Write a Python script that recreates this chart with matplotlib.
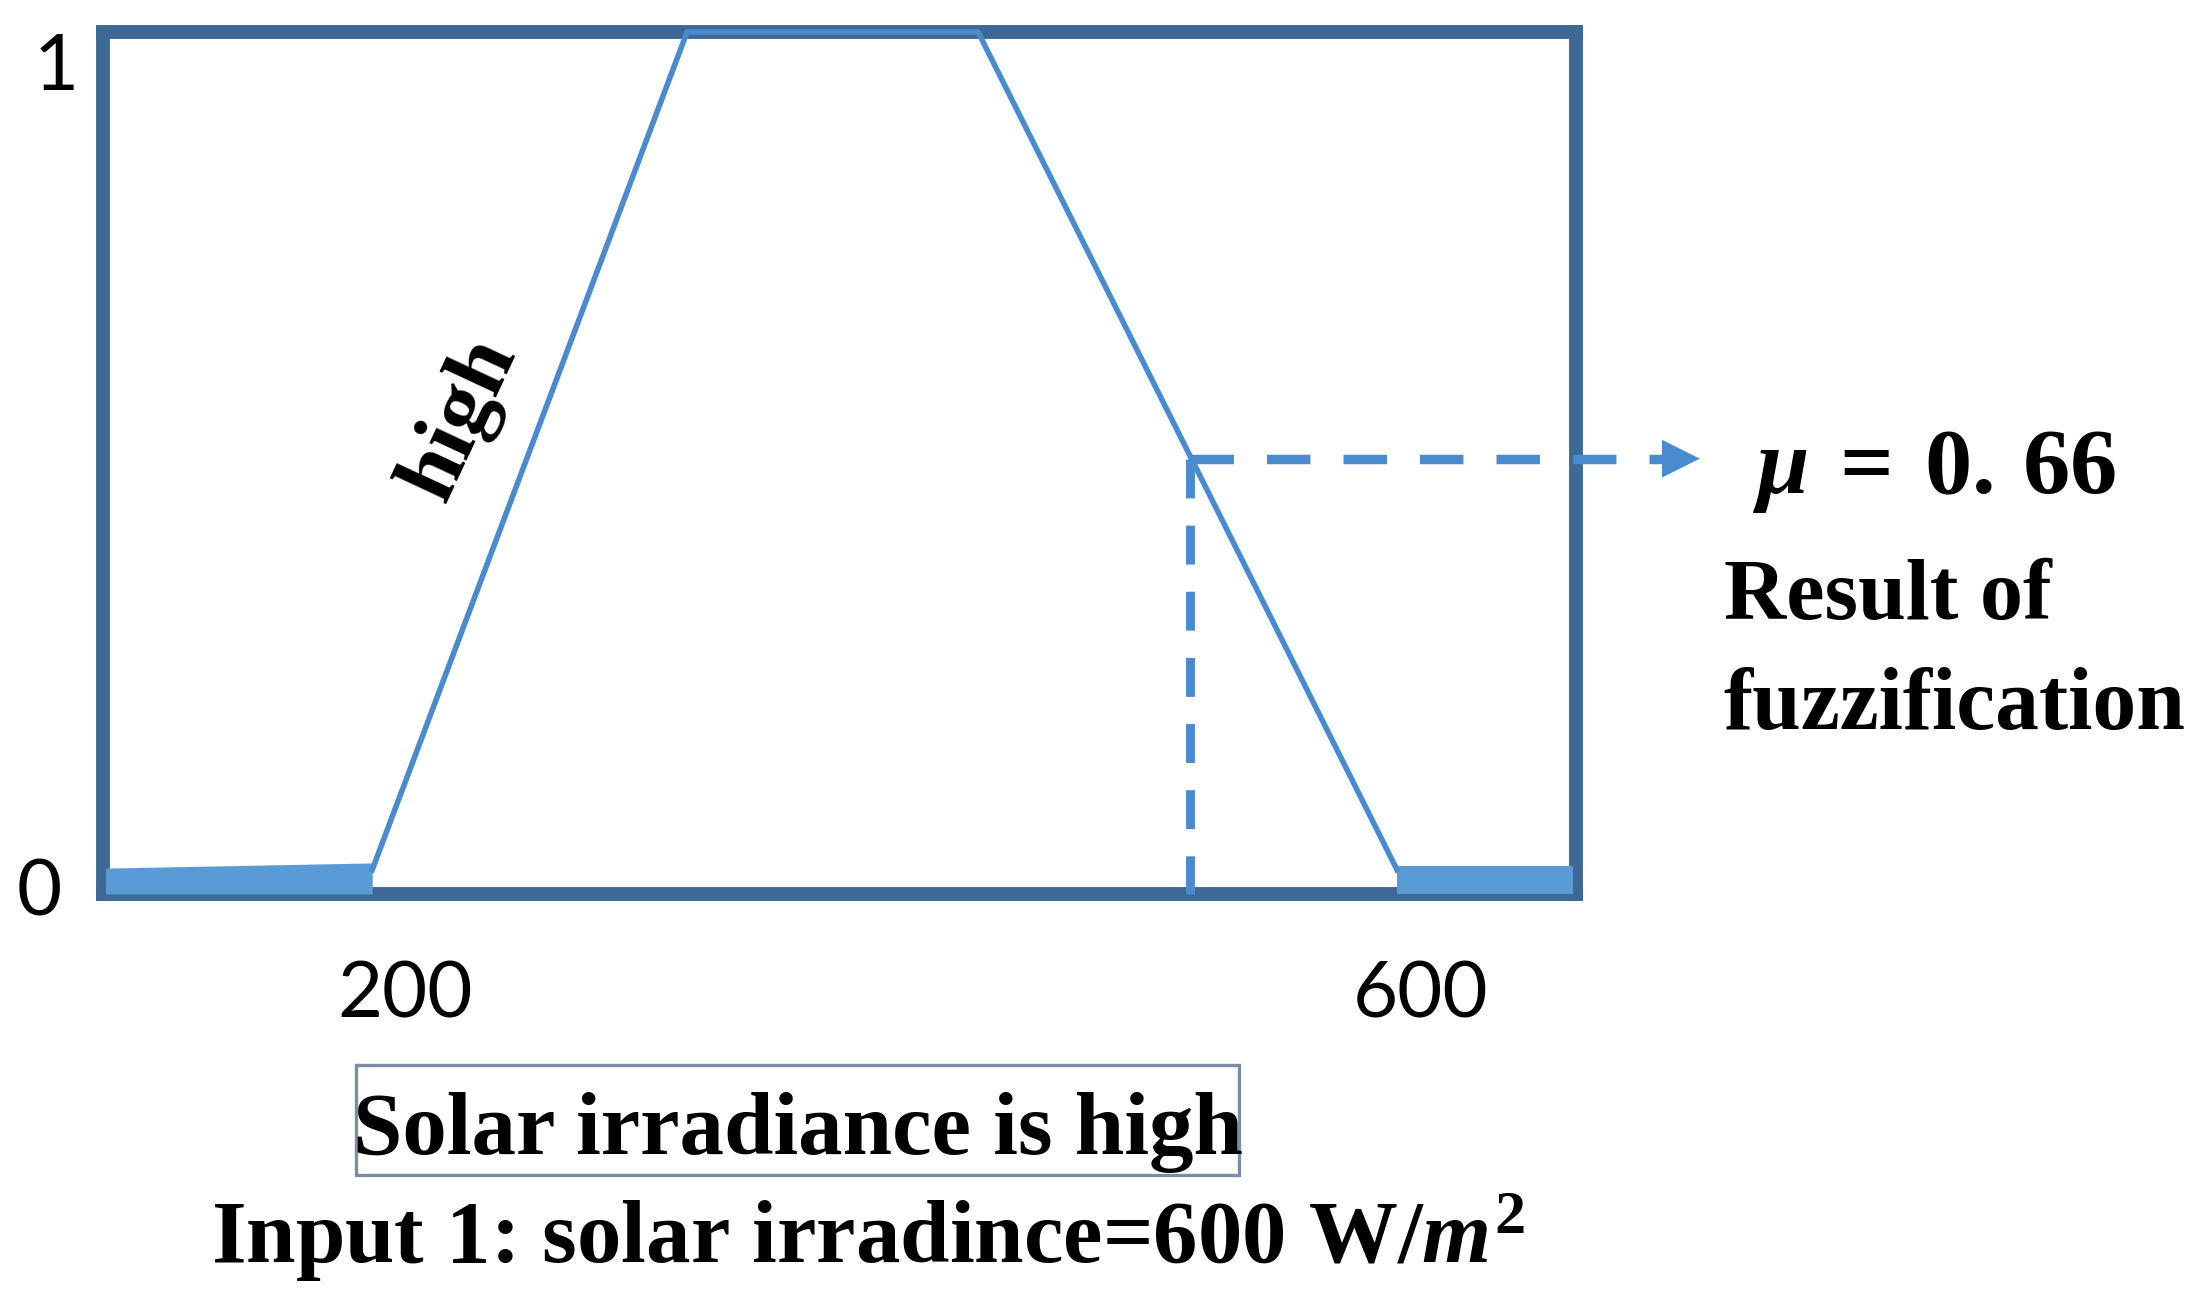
import matplotlib.pyplot as plt
from matplotlib.patches import Rectangle

plt.rcParams['mathtext.fontset'] = 'custom'
plt.rcParams['mathtext.rm'] = 'Liberation Serif:bold'
plt.rcParams['mathtext.it'] = 'Liberation Serif:bold:italic'
plt.rcParams['mathtext.bf'] = 'Liberation Serif:bold'

# membership function "high" (x = solar irradiance, y = membership degree)
mf_x = [187, 311, 425.6, 590.6]
mf_y = [0.028, 1.0, 1.0, 0.028]

# thick bands lying on the zero line at both ends
left_band_x = [82, 187]
left_band_top = [0.03, 0.036]
right_band_x = [590.6, 660]
right_band_top = [0.033, 0.033]

x_ticks = [200, 600]
x_tick_labels = ["200", "600"]

# fuzzified input
input_x = 509
mu_y = 0.505
arrow_end = 712

line_col = '#4a8bd0'
band_col = '#5b9bd5'
frame_col = '#3e6996'

fig = plt.figure(figsize=(11.035, 6.53), dpi=200)
ax = fig.add_axes([0.0467, 0.3155, 0.6673, 0.66])
ax.set_xlim(81, 661)
ax.set_ylim(0, 1)

for sp in ax.spines.values():
    sp.set_color(frame_col)
    sp.set_linewidth(5)
    sp.set_capstyle('projecting')

ax.fill_between(left_band_x, 0, left_band_top, color=band_col, lw=0, zorder=3)
ax.fill_between(right_band_x, 0, right_band_top, color=band_col, lw=0, zorder=3)
ax.plot(mf_x, mf_y, color=line_col, lw=2.0, zorder=3, clip_on=False)

# dashed guides and arrow
ax.plot([input_x, input_x], [mu_y, 0], color=line_col, lw=3.2,
        ls=(0, (4.38, 3.06)), zorder=3, clip_on=False)
ax.plot([input_x, arrow_end - 8], [mu_y, mu_y], color=line_col, lw=3.4,
        ls=(0, (4.6, 3.5)), zorder=3, clip_on=False)
ax.annotate('', xy=(arrow_end, mu_y), xytext=(arrow_end - 9, mu_y),
            arrowprops=dict(arrowstyle='-|>', mutation_scale=34,
                            color=line_col, lw=0),
            annotation_clip=False)

ax.set_xticks(x_ticks, x_tick_labels, fontfamily='Lato', fontsize=28)
ax.tick_params(axis='x', length=0, pad=24)
ax.set_yticks([])

ax.text(-0.0435, 0.0, "0", transform=ax.get_yaxis_transform(),
        ha='center', va='center', fontfamily='Lato', fontsize=28)
ax.text(-0.032, 0.958, "1", transform=ax.get_yaxis_transform(),
        ha='center', va='center', fontfamily='Lato', fontsize=28)

ax.text(222, 0.551, "high", rotation=65, ha='center', va='center',
        fontfamily='Liberation Serif', fontweight='bold', fontsize=32)

# text on the right
fig.text(0.794, 0.6225, r"$\mu\:=\:0.\,66$", ha='left', va='baseline',
         fontfamily='Liberation Serif', fontweight='bold', fontsize=34)
fig.text(0.781, 0.526, "Result of", ha='left', va='baseline',
         fontfamily='Liberation Serif', fontweight='bold', fontsize=31)
fig.text(0.781, 0.442, "fuzzification", ha='left', va='baseline',
         fontfamily='Liberation Serif', fontweight='bold', fontsize=31.5)

# captions below
fig.add_artist(Rectangle((0.1613, 0.1003), 0.400, 0.0842, transform=fig.transFigure,
                         fill=False, edgecolor='#7a8fa3', lw=1.2))
fig.text(0.3616, 0.1164, "Solar irradiance is high", ha='center', va='baseline',
         fontfamily='Liberation Serif', fontweight='bold', fontsize=32)
fig.text(0.3934, 0.0337, r"Input 1: solar irradince=600 W/$m^2$", ha='center',
         va='baseline', fontfamily='Liberation Serif', fontweight='bold', fontsize=32)

fig.savefig('out.png', dpi=200)
